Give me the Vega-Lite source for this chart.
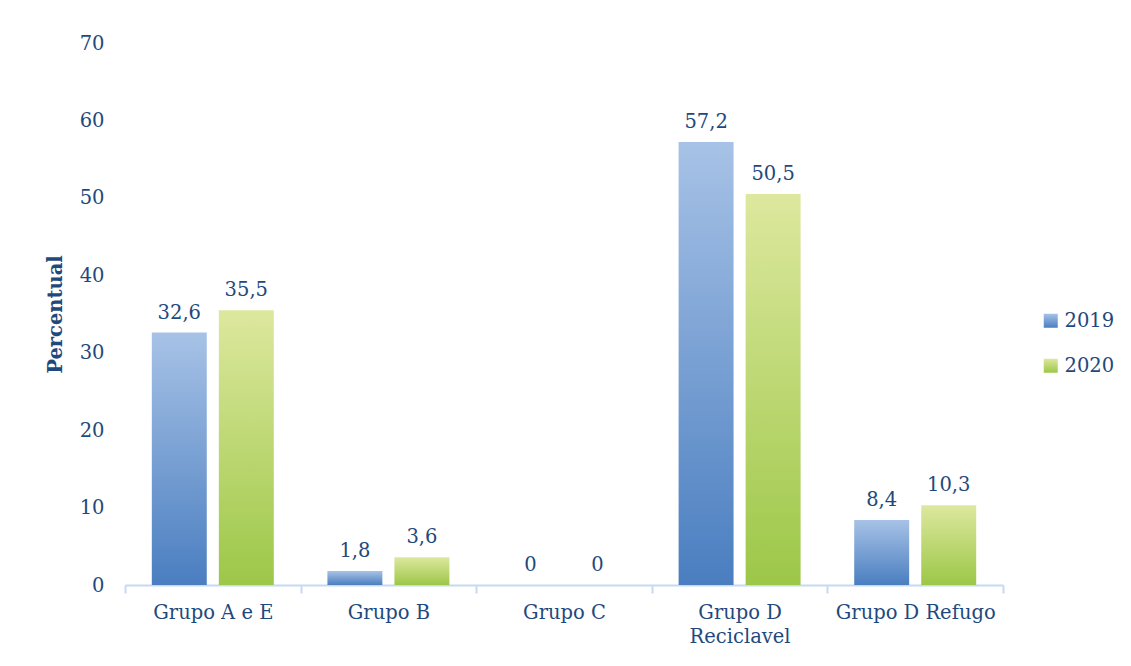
{
  "$schema": "https://vega.github.io/schema/vega-lite/v6.json",
  "width": 878,
  "height": 542,
  "autosize": {"type": "none"},
  "padding": {"left": 125, "top": 43, "right": 128, "bottom": 81},
  "background": "white",
  "config": {
    "view": {"stroke": null},
    "font": "DejaVu Serif",
    "text": {"font": "DejaVu Serif"}
  },
  "data": {
    "values": [
      {"grupo": "Grupo A e E", "ano": "2019", "valor": 32.6},
      {"grupo": "Grupo A e E", "ano": "2020", "valor": 35.5},
      {"grupo": "Grupo B", "ano": "2019", "valor": 1.8},
      {"grupo": "Grupo B", "ano": "2020", "valor": 3.6},
      {"grupo": "Grupo C", "ano": "2019", "valor": 0},
      {"grupo": "Grupo C", "ano": "2020", "valor": 0},
      {"grupo": "Grupo D Reciclavel", "ano": "2019", "valor": 57.2},
      {"grupo": "Grupo D Reciclavel", "ano": "2020", "valor": 50.5},
      {"grupo": "Grupo D Refugo", "ano": "2019", "valor": 8.4},
      {"grupo": "Grupo D Refugo", "ano": "2020", "valor": 10.3}
    ]
  },
  "transform": [
    {"calculate": "replace(toString(datum.valor), '.', ',')", "as": "rotulo"}
  ],
  "encoding": {
    "x": {
      "field": "grupo", "type": "nominal", "sort": null,
      "scale": {"paddingInner": 0, "paddingOuter": 0},
      "axis": {
        "title": null, "labelAngle": 0,
        "labelFont": "DejaVu Serif", "labelFontSize": 19.5, "labelColor": "#1F497D",
        "labelPadding": 10, "labelBaseline": "top", "labelLineHeight": 24,
        "labelExpr": "datum.label == 'Grupo D Reciclavel' ? ['Grupo D', 'Reciclavel'] : datum.label",
        "domainColor": "#C6D9F1", "domainWidth": 2,
        "tickColor": "#C6D9F1", "tickWidth": 2, "tickSize": 8, "tickBand": "extent",
        "grid": false
      }
    },
    "xOffset": {
      "field": "ano", "type": "nominal",
      "scale": {"paddingInner": 0.18, "paddingOuter": 0.4}
    },
    "y": {
      "field": "valor", "type": "quantitative",
      "scale": {"domain": [0, 70], "nice": false},
      "axis": {
        "title": "Percentual", "titleFont": "DejaVu Serif", "titleFontSize": 19.5,
        "titleFontWeight": "bold", "titleColor": "#1F497D", "titlePadding": 14,
        "values": [0, 10, 20, 30, 40, 50, 60, 70],
        "labelFont": "DejaVu Serif", "labelFontSize": 19.5, "labelColor": "#1F497D",
        "labelPadding": 21, "ticks": false, "domain": false, "grid": false
      }
    }
  },
  "layer": [
    {
      "mark": {
        "type": "bar", "filled": false, "opacity": 0,
        "fill": {"expr": "(datum.value == '2019' || datum.ano == '2019') ? {gradient: 'linear', x1: 0, y1: 0, x2: 0, y2: 1, stops: [{offset: 0, color: '#A7C2E6'}, {offset: 1, color: '#4A7EC0'}]} : {gradient: 'linear', x1: 0, y1: 0, x2: 0, y2: 1, stops: [{offset: 0, color: '#DDE89E'}, {offset: 1, color: '#9CC748'}]}"}
      },
      "encoding": {
        "color": {
          "field": "ano", "type": "nominal",
          "scale": {"domain": ["2019", "2020"], "range": ["#7FA3D6", "#BDD872"]},
          "legend": {
            "title": null, "orient": "none", "legendX": 916, "legendY": 268,
            "symbolType": "square", "symbolSize": 196, "symbolStrokeWidth": 0, "symbolOpacity": 1,
            "labelFont": "DejaVu Serif", "labelFontSize": 19.5, "labelColor": "#1F497D",
            "labelOffset": 4, "rowPadding": 24
          }
        }
      }
    },
    {
      "mark": {"type": "bar"},
      "encoding": {
        "fill": {
          "condition": {
            "test": "datum.ano == '2019'",
            "value": {"gradient": "linear", "x1": 0, "y1": 0, "x2": 0, "y2": 1,
               "stops": [{"offset": 0, "color": "#A7C2E6"}, {"offset": 1, "color": "#4A7EC0"}]}
          },
          "value": {"gradient": "linear", "x1": 0, "y1": 0, "x2": 0, "y2": 1,
               "stops": [{"offset": 0, "color": "#DDE89E"}, {"offset": 1, "color": "#9CC748"}]}
        }
      }
    },
    {
      "mark": {"type": "text", "baseline": "alphabetic", "dy": -14, "fontSize": 19.5, "color": "#1F497D", "font": "DejaVu Serif"},
      "encoding": {
        "text": {"field": "rotulo", "type": "nominal"}
      }
    }
  ]
}
